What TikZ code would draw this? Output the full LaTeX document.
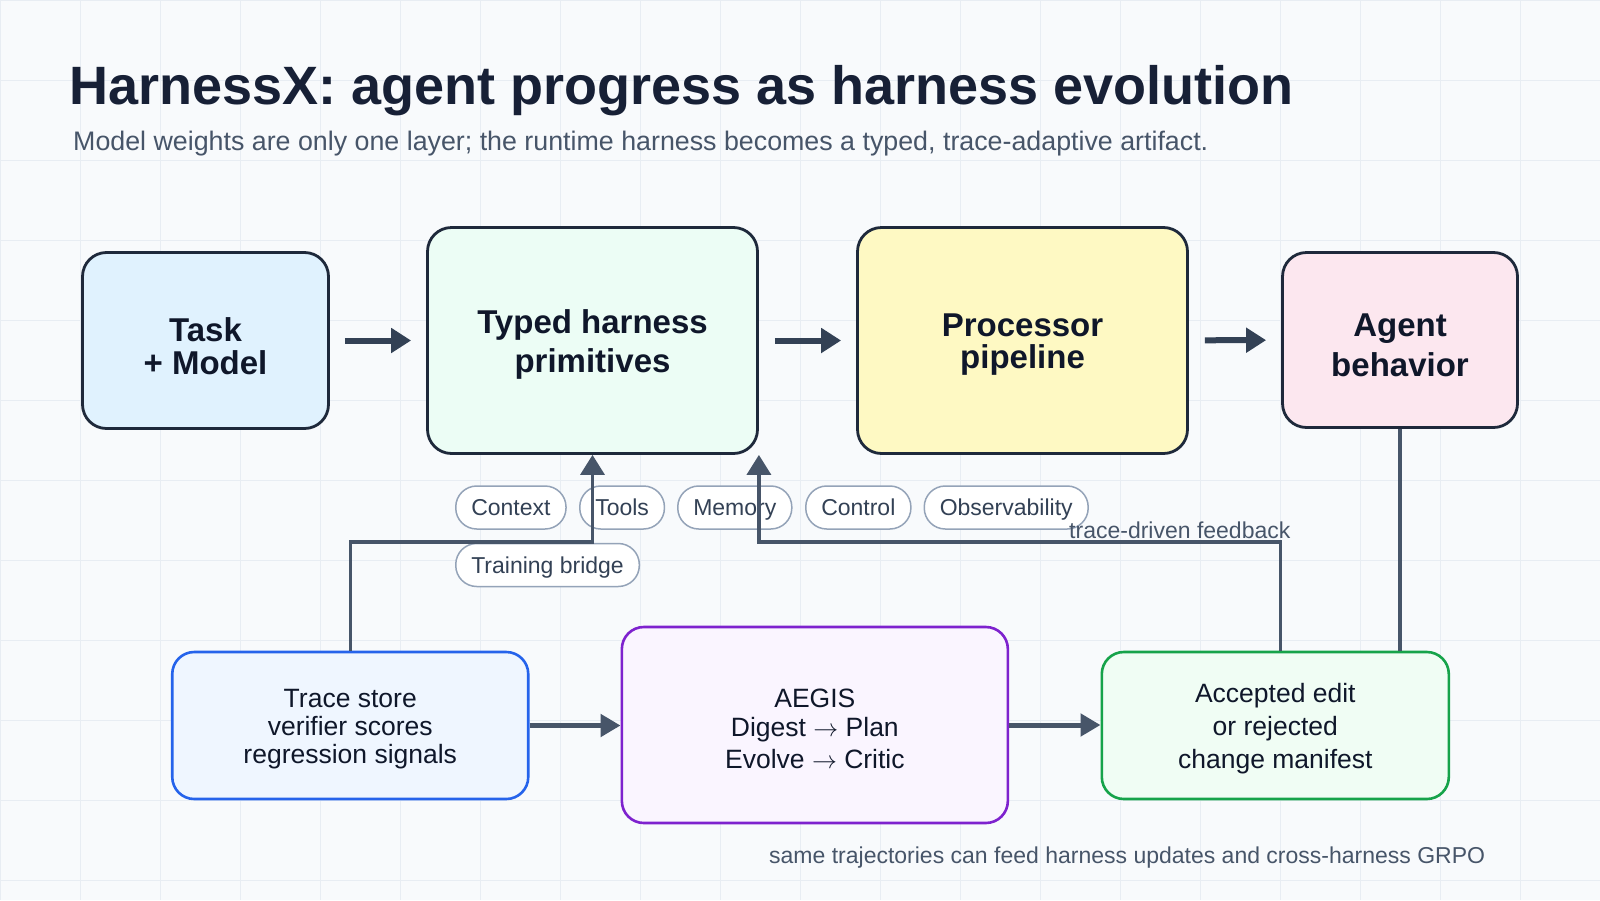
\documentclass[tikz,border=0pt]{standalone}
\usepackage{fontspec}
\setmainfont{Liberation Sans}
\usetikzlibrary{arrows.meta,calc}
\definecolor{cbg}{HTML}{F8FAFC}
\definecolor{cgrid}{HTML}{E8EDF3}
\definecolor{ctitle}{HTML}{172036}
\definecolor{csub}{HTML}{475569}
\definecolor{cborder}{HTML}{1E293B}
\definecolor{ctext}{HTML}{0F172A}
\definecolor{carrow}{HTML}{334155}
\definecolor{cconn}{HTML}{475569}
\definecolor{cpill}{HTML}{94A3B8}
\definecolor{cpilltext}{HTML}{334155}
\definecolor{ctask}{HTML}{E0F2FE}
\definecolor{ctyped}{HTML}{ECFDF5}
\definecolor{cproc}{HTML}{FEF9C3}
\definecolor{cagent}{HTML}{FCE7EF}
\definecolor{ctracefill}{HTML}{EFF6FF}
\definecolor{ctraceb}{HTML}{2563EB}
\definecolor{caegisfill}{HTML}{FAF5FF}
\definecolor{caegisb}{HTML}{7E22CE}
\definecolor{caccfill}{HTML}{F0FDF4}
\definecolor{caccb}{HTML}{16A34A}
\tikzset{
  topbox/.style={draw=cborder, line width=2.8pt, rounded corners=24pt, inner sep=0pt},
  btmbox/.style={line width=2.6pt, rounded corners=22pt, inner sep=0pt},
  toptext/.style={font=\fontsize{33}{#1}\selectfont\bfseries, text=ctext, align=center, inner sep=0pt},
  btmtext/.style={font=\fontsize{26.5}{#1}\selectfont, text=ctext, align=center, inner sep=0pt},
  pill/.style={draw=cpill, fill=white, line width=1.5pt, rounded corners=21pt,
    minimum height=43pt, inner xsep=15.5pt, inner ysep=0pt,
    font=\fontsize{23}{23}\selectfont, text=cpilltext, text height=16.5pt, text depth=0pt, anchor=west},
  bigarrow/.style={draw=carrow, line width=6pt, -{Triangle[length=20pt,width=24pt]}},
  btmarrow/.style={draw=cconn, line width=5pt, -{Triangle[length=20pt,width=22pt]}},
  conn/.style={draw=cconn, line width=3.5pt, -{Triangle[length=20pt,width=24pt]}},
  plainconn/.style={draw=cconn, line width=3.5pt},
  note/.style={font=\fontsize{23}{23}\selectfont, text=csub, inner sep=0pt, anchor=base west}
}
\begin{document}
\begin{tikzpicture}[x=1pt, y=-1pt]
\useasboundingbox (0,0) rectangle (1600,900);
\fill[cbg] (0,0) rectangle (1600,900);
\foreach \g in {0,80,...,1600} \draw[cgrid, line width=1pt] (\g,0) -- (\g,900);
\foreach \g in {0,80,...,880} \draw[cgrid, line width=1pt] (0,\g) -- (1600,\g);

% titles
\node[anchor=base west, inner sep=0pt, font=\fontsize{54}{60}\selectfont\bfseries, text=ctitle] (title) at (69,104) {HarnessX: agent progress as harness evolution};
\node[anchor=base west, inner sep=0pt, font=\fontsize{26.8}{30}\selectfont, text=csub] (subtitle) at (73,150.5) {Model weights are only one layer; the runtime harness becomes a typed, trace-adaptive artifact.};

% top row boxes
\node[topbox, fill=ctask, minimum width=246pt, minimum height=176pt] (task) at (205.5,340.5) {};
\node[topbox, fill=ctyped, minimum width=330pt, minimum height=226pt] (typed) at (592.5,340.5) {};
\node[topbox, fill=cproc, minimum width=330pt, minimum height=226pt] (proc) at (1022.5,340.5) {};
\node[topbox, fill=cagent, minimum width=235pt, minimum height=175pt] (agent) at (1400,340) {};

\node[toptext=33] (tasktext) at (205.5,346.5) {Task\\+ Model};
\node[toptext=39] (typedtext) at (592.5,344) {Typed harness\\primitives};
\node[toptext=32] (proctext) at (1022.5,344.5) {Processor\\pipeline};
\node[toptext=40] (agenttext) at (1400,345) {Agent\\behavior};

% bottom row boxes
\node[btmbox, draw=ctraceb, fill=ctracefill, minimum width=356pt, minimum height=147pt] (trace) at (350.25,725.5) {};
\node[btmbox, draw=caegisb, fill=caegisfill, minimum width=386pt, minimum height=196pt] (aegis) at (814.85,725) {};
\node[btmbox, draw=caccb, fill=caccfill, minimum width=347pt, minimum height=147pt] (acc) at (1275.3,725.5) {};

\node[btmtext=28] (tracetext) at (350.25,729.3) {Trace store\\verifier scores\\regression signals};
\node[btmtext=29] (aegistext) at (814.85,729) {AEGIS\\Digest $\rightarrow$ Plan\\[3pt]Evolve $\rightarrow$ Critic};
\node[btmtext=33] (acctext) at (1275.3,729) {Accepted edit\\or rejected\\change manifest};

% pills
\node[pill] (pcontext) at (455,507.5) {Context};
\node[pill] (ptools) at (579,507.5) {Tools};
\node[pill] (pmemory) at (677,507.5) {Memory};
\node[pill] (pcontrol) at (805,507.5) {Control};
\node[pill] (pobs) at (923.5,507.5) {Observability};
\node[pill] (ptrain) at (455,565) {Training bridge};

% labels
\node[note] (fblabel) at (1069,538) {trace-driven feedback};
\node[note] (footer) at (769,863) {same trajectories can feed harness updates and cross-harness GRPO};

% top arrows
\draw[bigarrow, shorten <=15pt, shorten >=15pt] (task) -- (typed);
\draw[bigarrow, shorten <=16pt, shorten >=15pt] (typed) -- (proc);
\draw[bigarrow, shorten <=16pt, shorten >=15pt] (proc) -- (agent);

% bottom arrows
\draw[btmarrow] (trace.east) -- (aegis.west |- trace.east);
\draw[btmarrow] (aegis.east) -- (acc.west |- aegis.east);

% feedback connectors
\draw[conn] (trace.north) |- ($(typed.south)+(0,87)$) -- (typed.south);
\draw[conn] ($(acc.north)+(5,0)$) |- ($(typed.south east)+(0,87)$) -- (typed.south east);
\draw[plainconn] (agent.south) -- (agent.south |- acc.north);
\end{tikzpicture}
\end{document}
